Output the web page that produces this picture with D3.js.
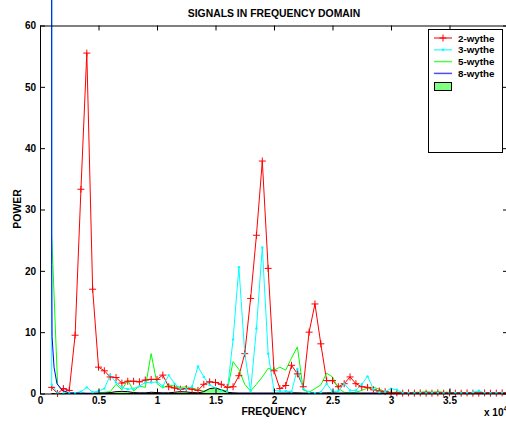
<!DOCTYPE html>
<html>
<head>
<meta charset="utf-8">
<script src="https://d3js.org/d3.v7.min.js"></script>
<style>
  body { margin: 0; background: #fff; }
  svg { display: block; font-family: "Liberation Sans", Arial, sans-serif; font-weight: bold; }
</style>
</head>
<body>
<script>
    // frequency grid (x 10^4), one sample every 0.05
    var freq = d3.range(0.1, 4.0001, 0.05);

    var wythe2 = [
        1.0, 0.0, 0.8, 0.5, 9.5, 33.3, 55.5, 17.0, 4.3, 3.7,
        2.7, 2.6, 1.7, 2.0, 2.0, 1.9, 2.2, 2.3, 2.3, 3.0,
        1.1, 0.9, 0.7, 0.8, 0.7, 0.5, 1.5, 1.9, 1.8, 1.5,
        1.0, 1.1, 2.9, 6.5, 15.5, 25.8, 37.9, 20.4, 3.7, 0.8,
        1.3, 4.6, 3.2, 1.1, 10.0, 14.6, 8.1, 2.1, 2.1, 1.1,
        1.6, 2.7, 1.6, 1.1, 1.0, 0.6, 0.4, 0.3, 0.1, 0.1,
        0.05, 0.1, 0.05, 0.1, 0.05, 0.05, 0.1, 0.05, 0.1, 0.05,
        0.05, 0.1, 0.05, 0.05, 0.1, 0.05, 0.05, 0.1, 0.05
    ];
    var wythe3 = [
        1.4, 0.1, 0.0, 0.1, 0.1, 0.3, 1.0, 0.2, 0.4, 0.8,
        3.0, 1.8, 1.0, 0.7, 0.8, 1.2, 1.8, 1.8, 1.9, 1.2,
        3.0, 1.6, 0.8, 0.7, 1.1, 4.4, 2.7, 1.4, 0.9, 0.5,
        0.3, 8.8, 20.6, 6.5, 0.4, 10.6, 23.8, 6.5, 0.5, 0.4,
        0.4, 0.3, 4.0, 0.8, 0.2, 0.1, 0.2, 1.6, 0.3, 0.4,
        1.6, 0.5, 0.5, 1.5, 2.8, 0.7, 0.2, 0.3, 0.8, 0.6,
        0.1, 0.1, 0.05, 0.1, 0.05, 0.1, 0.1, 0.05, 0.1, 0.1,
        0.05, 0.1, 0.2, 0.4, 0.1, 0.05, 0.1, 0.1, 0.05
    ];
    var wythe5 = [
        26, 1.5, 0.3, 0.1, 0.1, 0.1, 0.0, 0.0, 0.1, 0.2,
        0.3, 1.5, 0.6, 2.2, 0.4, 1.2, 1.0, 6.5, 1.6, 0.9,
        1.4, 1.2, 1.0, 1.1, 0.9, 0.6, 0.4, 0.6, 0.8, 0.6,
        0.4, 5.2, 3.9, 1.5, 0.4, 1.5, 2.7, 4.1, 3.8, 4.3,
        3.8, 5.8, 7.6, 0.6, 0.2, 0.8, 1.4, 3.3, 2.7, 0.8,
        0.2, 0.1, 0.2, 0.5, 0.9, 1.0, 0.7, 0.3, 0.2, 0.2,
        0.2, 0.1, 0.2, 0.2, 0.3, 0.2, 0.3, 0.2, 0.2, 0.1,
        0.2, 0.1, 0.1, 0.1, 0.1, 0.05, 0.1, 0.05, 0.1
    ];
    var envelope = [
        0, 0, 0, 0, 0, 0, 0, 0, 0.02, 0.05,
        0.15, 0.3, 0.35, 0.3, 0.15, 0.1, 0.1, 0.2, 0.15, 0.1,
        0.1, 0.2, 0.3, 0.25, 0.15, 0.1, 0.3, 0.8, 0.9, 0.6,
        0.2, 0.1, 0.05, 0.05, 0.05, 0.05, 0.05, 0.05, 0.05, 0.05,
        0.05, 0.1, 0.1, 0.05, 0.05, 0.05, 0.05, 0.1, 0.1, 0.05,
        0.05, 0.05, 0.05, 0.05, 0.05, 0.05, 0.05, 0.05, 0.05, 0.05,
        0.05, 0.05, 0.05, 0.05, 0.05, 0.05, 0.05, 0.05, 0.05, 0.05,
        0.05, 0.05, 0.05, 0.05, 0.05, 0.05, 0.05, 0.05, 0.05
    ];
    // 8-wythe is sampled finer near the start
    var wythe8Freq = [0.1, 0.1, 0.103, 0.12, 0.145, 0.19, 0.25, 0.4, 1.0, 2.0, 3.0, 4.0];
    var wythe8 = [500, 21, 9.3, 4.3, 1.6, 0.5, 0.1, 0.05, 0.05, 0.05, 0.05, 0.05];
    var dcValue = 500; // off-scale value at the first bin

    var xTicks = [0, 0.5, 1, 1.5, 2, 2.5, 3, 3.5, 4];
    var xTickLabels = ["0", "0.5", "1", "1.5", "2", "2.5", "3", "3.5", ""];
    var yTicks = [0, 10, 20, 30, 40, 50, 60];
    var legendNames = ["2-wythe", "3-wythe", "5-wythe", "8-wythe"];

    var W = 506, H = 425;
    var svg = d3.select("body").append("svg")
        .attr("width", W)
        .attr("height", H);

    var x = d3.scaleLinear().domain([0, 4]).range([40, 508]);
    var y = d3.scaleLinear().domain([0, 60]).range([393.5, 25.5]);

    // series
    var line = d3.line().x(function(d) { return x(d[0]); }).y(function(d) { return y(d[1]); });
    var pts = function(vals) { return vals.map(function(v, i) { return [freq[i], v]; }); };

    var redPts = pts(wythe2);
    var cyanPts = [[0.1, dcValue]].concat(pts(wythe3));
    var greenPts = [[0.1, dcValue]].concat(pts(wythe5));
    var bluePts = wythe8.map(function(v, i) { return [wythe8Freq[i], v]; });

    svg.append("path").attr("d", line(redPts))
        .attr("fill", "none").attr("stroke", "#ff0000").attr("stroke-width", 1);
    svg.append("path").attr("d", line(greenPts))
        .attr("fill", "none").attr("stroke", "#00ff00").attr("stroke-width", 1);
    svg.append("path").attr("d", line(cyanPts))
        .attr("fill", "none").attr("stroke", "#00ffff").attr("stroke-width", 1);
    svg.append("path").attr("d", line(bluePts))
        .attr("fill", "none").attr("stroke", "#0000ff").attr("stroke-width", 1);

    var area = d3.area().x(function(d) { return x(d[0]); }).y0(y(0)).y1(function(d) { return y(d[1]); });
    svg.append("path").attr("d", area(pts(envelope)))
        .attr("fill", "#80ff80").attr("stroke", "#000").attr("stroke-width", 1);

    // markers
    svg.selectAll(".plus").data(redPts).enter().append("path")
        .attr("class", "plus")
        .attr("transform", function(d) { return "translate(" + x(d[0]) + "," + y(d[1]) + ")"; })
        .attr("d", "M-3.5,0H3.5M0,-3.5V3.5")
        .attr("stroke", "#ff0000").attr("stroke-width", 1);
    svg.selectAll(".dot").data(pts(wythe3)).enter().append("circle")
        .attr("class", "dot")
        .attr("cx", function(d) { return x(d[0]); })
        .attr("cy", function(d) { return y(d[1]); })
        .attr("r", 1.2)
        .attr("fill", "#00ffff");

    // axes (ticks inside, on all four sides)
    var styleAxis = function(g) {
        g.attr("font-family", null).attr("font-size", null);
        g.selectAll("text").attr("fill", "#000").style("font-size", "10px");
        g.selectAll("line").attr("stroke", "#000");
        g.select(".domain").attr("stroke", "#000");
    };
    svg.append("g").attr("transform", "translate(0," + y(0) + ")")
        .call(d3.axisBottom(x).tickValues(xTicks)
            .tickFormat(function(d, i) { return xTickLabels[i]; })
            .tickSize(-5).tickSizeOuter(0).tickPadding(3))
        .call(styleAxis);
    svg.append("g").attr("transform", "translate(0," + y(60) + ")")
        .call(d3.axisTop(x).tickValues(xTicks).tickFormat("").tickSize(-5).tickSizeOuter(0))
        .call(styleAxis);
    svg.append("g").attr("transform", "translate(" + x(0) + ",0)")
        .call(d3.axisLeft(y).tickValues(yTicks).tickFormat(String).tickSize(-5).tickSizeOuter(0).tickPadding(4))
        .call(styleAxis);
    svg.append("g").attr("transform", "translate(" + x(4) + ",0)")
        .call(d3.axisRight(y).tickValues(yTicks).tickFormat("").tickSize(-5).tickSizeOuter(0))
        .call(styleAxis);

    // texts
    svg.append("text").attr("x", 274).attr("y", 17).attr("text-anchor", "middle")
        .style("font-size", "10.4px").text("SIGNALS IN FREQUENCY DOMAIN");
    svg.append("text").attr("x", 274).attr("y", 415).attr("text-anchor", "middle")
        .style("font-size", "10.4px").text("FREQUENCY");
    svg.append("text").attr("transform", "translate(21,209) rotate(-90)").attr("text-anchor", "middle")
        .style("font-size", "10.4px").text("POWER");
    var mult = svg.append("text").attr("x", 484).attr("y", 416).style("font-size", "10px");
    mult.append("tspan").text("x 10");
    mult.append("tspan").attr("dy", -5).style("font-size", "7px").text("4");

    // legend
    var leg = svg.append("g");
    leg.append("rect").attr("x", 428.5).attr("y", 29.5).attr("width", 74).attr("height", 123)
        .attr("fill", "#fff").attr("stroke", "#000").attr("stroke-width", 1);
    var legColors = ["#ff0000", "#00ffff", "#00ff00", "#0000ff"];
    legendNames.forEach(function(name, i) {
        var ly = 38 + i * 11.8;
        leg.append("line").attr("x1", 434).attr("x2", 452).attr("y1", ly).attr("y2", ly)
            .attr("stroke", legColors[i]).attr("stroke-width", 1.5).attr("stroke-opacity", 0.7);
        if (i === 0) {
            leg.append("path").attr("transform", "translate(443," + ly + ")")
                .attr("d", "M-3.5,0H3.5M0,-3.5V3.5").attr("stroke", "#ff0000");
        }
        if (i === 1) {
            leg.append("circle").attr("cx", 443).attr("cy", ly).attr("r", 1.2).attr("fill", "#00ffff");
        }
        leg.append("text").attr("x", 458).attr("y", ly + 3.5).style("font-size", "9.8px").text(name);
    });
    leg.append("rect").attr("x", 434.5).attr("y", 82.5).attr("width", 17).attr("height", 8)
        .attr("fill", "#80ff80").attr("stroke", "#000").attr("stroke-width", 1);
</script>
</body>
</html>
